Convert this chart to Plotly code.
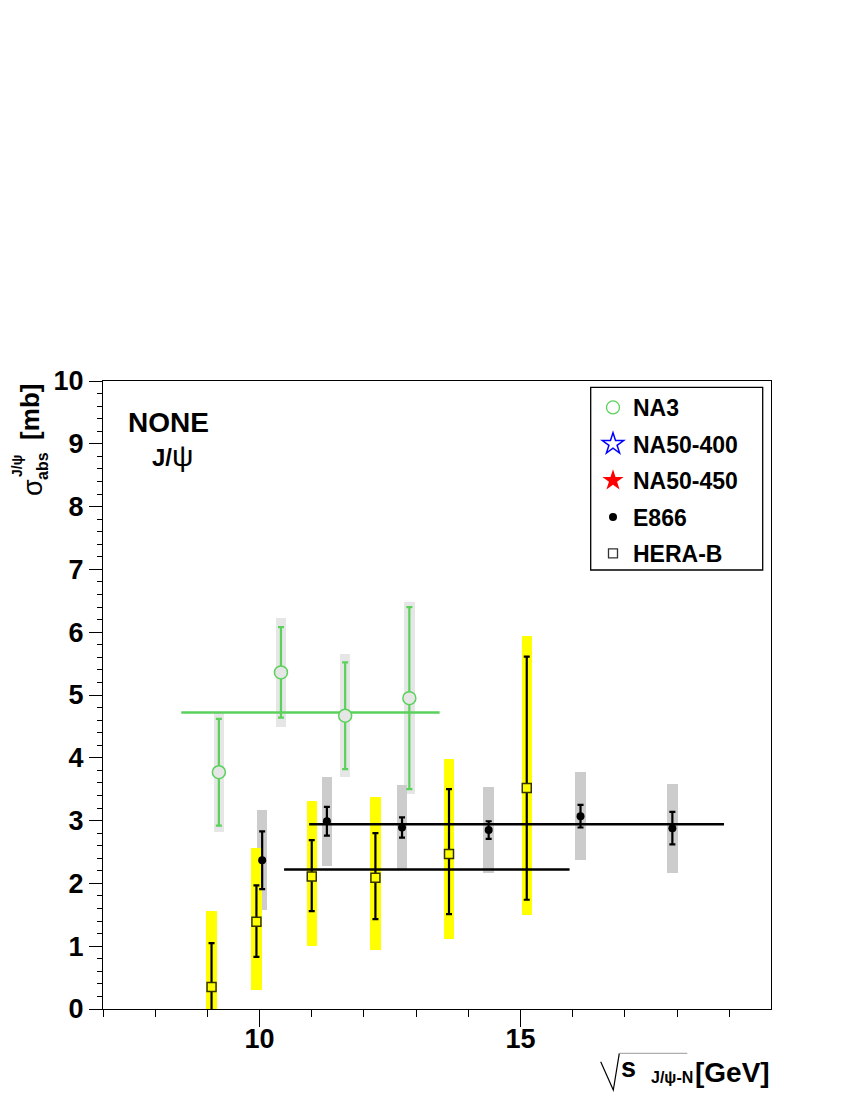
import plotly.graph_objects as go

# ---------------- data ----------------
na3_x = [9.22, 10.41, 11.64, 12.87]
na3_y = [3.77, 5.36, 4.67, 4.95]
na3_stat = [0.85, 0.72, 0.85, 1.45]
na3_sys = [0.95, 0.87, 0.98, 1.53]
na3_fit_val = 4.72
na3_fit_range = [8.5, 13.45]

e866_x = [10.05, 11.29, 12.73, 14.39, 16.15, 17.91]
e866_y = [2.37, 2.99, 2.89, 2.85, 3.07, 2.88]
e866_stat = [0.46, 0.23, 0.16, 0.14, 0.18, 0.26]
e866_sys = [0.80, 0.71, 0.68, 0.69, 0.70, 0.71]
e866_fit_val = 2.94
e866_fit_range = [10.95, 18.9]

herab_x = [9.08, 9.94, 11.0, 12.22, 13.63, 15.12]
herab_y = [0.35, 1.39, 2.11, 2.09, 2.47, 3.52]
herab_stat_up = [0.70, 0.58, 0.58, 0.71, 1.03, 2.09]
herab_stat_dn = [0.70, 0.56, 0.55, 0.66, 0.96, 1.78]
herab_sys_up = [1.21, 1.18, 1.20, 1.29, 1.51, 2.42]
herab_sys_dn = [1.21, 1.08, 1.10, 1.15, 1.36, 2.02]
herab_fit_val = 2.22
herab_fit_range = [10.47, 15.94]

legend_names = ["NA3", "NA50-400", "NA50-450", "E866", "HERA-B"]

# ---------------- style ----------------
GREEN = "#5ad15a"
FONT = "Liberation Sans"
OFF = 8  # page body margin
SL, SR, ST, SB = 103, 771, 381, 1009  # plot area in screen pixels
W, H = 834, 1084
BOXW = 0.2


def pxx(x):
    return (x - SL) / (SR - SL)


def pxy(y):
    return (SB - y) / (SB - ST)


fig = go.Figure()

# systematic boxes
fig.add_trace(go.Bar(x=na3_x, y=[2 * s for s in na3_sys],
                     base=[v - s for v, s in zip(na3_y, na3_sys)],
                     width=BOXW, marker=dict(color="#e6e6e6", line=dict(width=0)),
                     showlegend=False, hoverinfo="skip"))
fig.add_trace(go.Bar(x=e866_x, y=[2 * s for s in e866_sys],
                     base=[v - s for v, s in zip(e866_y, e866_sys)],
                     width=BOXW, marker=dict(color="#cccccc", line=dict(width=0)),
                     showlegend=False, hoverinfo="skip"))
fig.add_trace(go.Bar(x=herab_x, y=[u + d for u, d in zip(herab_sys_up, herab_sys_dn)],
                     base=[v - d for v, d in zip(herab_y, herab_sys_dn)],
                     width=BOXW, marker=dict(color="#ffff00", line=dict(width=0)),
                     showlegend=False, hoverinfo="skip"))

# fitted averages
fig.add_trace(go.Scatter(x=na3_fit_range, y=[na3_fit_val] * 2, mode="lines",
                         line=dict(color=GREEN, width=2.5), showlegend=False))
fig.add_trace(go.Scatter(x=e866_fit_range, y=[e866_fit_val] * 2, mode="lines",
                         line=dict(color="black", width=2.5), showlegend=False))
fig.add_trace(go.Scatter(x=herab_fit_range, y=[herab_fit_val] * 2, mode="lines",
                         line=dict(color="black", width=2.5), showlegend=False))

# data points
fig.add_trace(go.Scatter(x=na3_x, y=na3_y, mode="markers",
                         error_y=dict(type="data", array=na3_stat, color=GREEN, thickness=2.2, width=3),
                         marker=dict(symbol="circle", size=13, color="#e6e6e6", line=dict(color=GREEN, width=1.5)),
                         showlegend=False))
fig.add_trace(go.Scatter(x=e866_x, y=e866_y, mode="markers",
                         error_y=dict(type="data", array=e866_stat, color="black", thickness=2.2, width=3),
                         marker=dict(symbol="circle", size=8, color="black"),
                         showlegend=False))
fig.add_trace(go.Scatter(x=herab_x, y=herab_y, mode="markers",
                         error_y=dict(type="data", symmetric=False, array=herab_stat_up,
                                      arrayminus=herab_stat_dn, color="black", thickness=2.2, width=3),
                         marker=dict(symbol="square", size=9, color="#ffff00", line=dict(color="#333300", width=1.5)),
                         showlegend=False))

# legend entries
leg_styles = [
    dict(symbol="circle-open", size=13, color=GREEN, line=dict(width=1.3)),
    dict(symbol="star-open", size=20, color="blue", line=dict(width=1.5)),
    dict(symbol="star", size=20, color="red"),
    dict(symbol="circle", size=8, color="black"),
    dict(symbol="square-open", size=9, color="#333333", line=dict(width=1.3)),
]
for i, (nm, st) in enumerate(zip(legend_names, leg_styles)):
    fig.add_trace(go.Scatter(x=[None], y=[None], mode="markers", name=nm, marker=st,
                             legendgroup=f"g{i}", showlegend=True))

# legend box
shapes = [dict(type="rect", xref="paper", yref="paper",
               x0=pxx(590.7), x1=pxx(762.7), y0=pxy(570), y1=pxy(387.3),
               line=dict(color="black", width=1.3), fillcolor="white", layer="above")]
# sqrt sign of x title
path = "M {} {} L {} {} L {} {}".format(pxx(600.7), pxy(1061.7), pxx(613.3), pxy(1090),
                                        pxx(619.3), pxy(1053.3))
shapes.append(dict(type="path", xref="paper", yref="paper", path=path,
                   line=dict(color="black", width=1.2)))
shapes.append(dict(type="line", xref="paper", yref="paper",
                   x0=pxx(619.3), x1=pxx(687.3), y0=pxy(1053.3), y1=pxy(1053.3),
                   line=dict(color="#999999", width=1)))


def ann(text, x, y, size, xanchor="center", angle=0, weight="bold"):
    return dict(text=text, xref="paper", yref="paper", x=pxx(x), y=pxy(y),
                xanchor=xanchor, yanchor="middle", showarrow=False, textangle=angle,
                font=dict(family=FONT, size=size, color="black", weight=weight), borderpad=0)


annotations = [
    ann("NONE", 127, 422.5, 28, xanchor="left"),
    ann("J/<span style='font-size:30px;font-weight:normal'>ψ</span>", 151, 455, 24, xanchor="left"),
    # x title
    ann("<b>s</b>", 620, 1068, 27, xanchor="left"),
    ann("J/ψ-N", 650, 1077.7, 16, xanchor="left"),
    ann("[GeV]", 694, 1072.6, 28, xanchor="left"),
    # y title
    ann("[mb]", 29.4, 411.5, 26, angle=-90),
    ann("σ", 33, 488, 27, angle=-90, weight="normal"),
    ann("abs", 42, 466, 16, angle=-90),
    ann("J/ψ", 17, 466, 14, angle=-90),
]

fig.update_layout(
    width=W, height=H,
    margin=dict(l=SL - OFF, r=W - (SR - OFF), t=ST - OFF, b=H - (SB - OFF), pad=0),
    paper_bgcolor="white", plot_bgcolor="white",
    barmode="overlay", bargap=0,
    showlegend=True,
    legend=dict(x=pxx(593), y=pxy(386), xanchor="left", yanchor="top",
                bgcolor="rgba(0,0,0,0)", borderwidth=0, tracegroupgap=3.6,
                font=dict(family=FONT, size=23, color="black", weight="bold"),
                itemsizing="trace"),
    xaxis=dict(range=[7, 19.8], showline=True, linecolor="black", linewidth=1, mirror=True,
               ticks="outside", tick0=0, dtick=5, ticklen=17, tickwidth=1, tickcolor="black",
               ticklabelstandoff=-11,
               minor=dict(dtick=1, ticklen=7, tickcolor="black", ticks="outside", tickwidth=1),
               showgrid=False, zeroline=False,
               tickfont=dict(family=FONT, size=27, color="black", weight="bold")),
    yaxis=dict(range=[0, 10], showline=True, linecolor="black", linewidth=1, mirror=True,
               ticks="outside", tick0=0, dtick=1, ticklen=13, tickwidth=1, tickcolor="black",
               minor=dict(dtick=0.2, ticklen=5, tickcolor="black", ticks="outside", tickwidth=1),
               showgrid=False, zeroline=False,
               tickfont=dict(family=FONT, size=27, color="black", weight="bold")),
    shapes=shapes,
    annotations=annotations,
)

fig.write_html("out.html")
